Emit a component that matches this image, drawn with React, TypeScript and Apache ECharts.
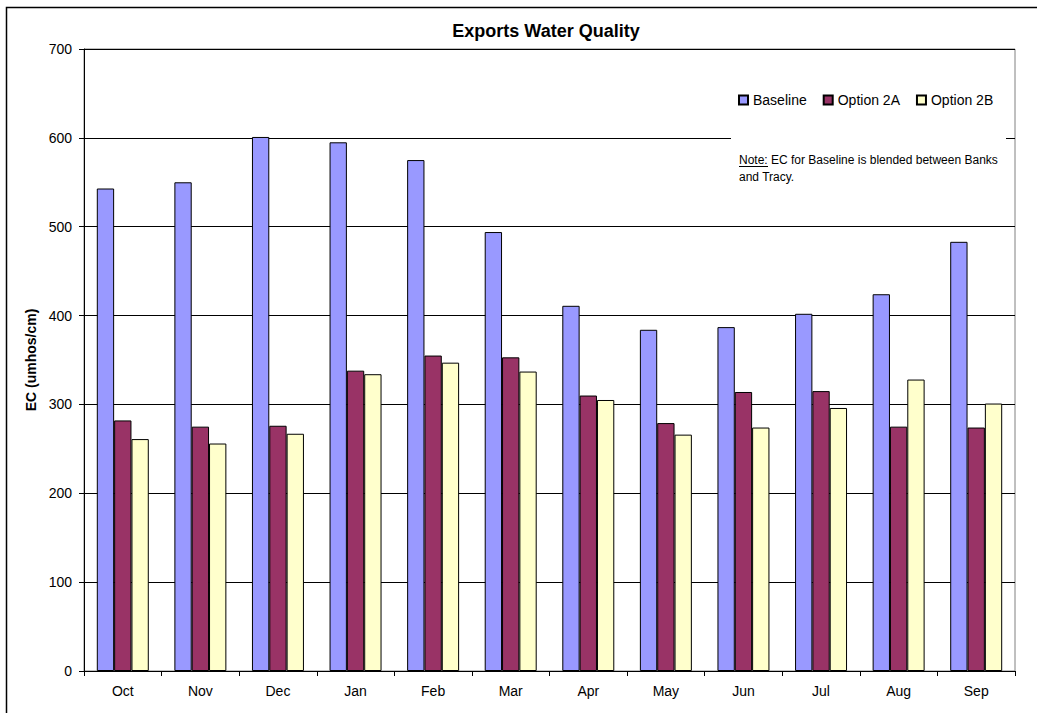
import React, { useEffect, useRef } from "react";
import * as echarts from "echarts";

const months = ["Oct", "Nov", "Dec", "Jan", "Feb", "Mar", "Apr", "May", "Jun", "Jul", "Aug", "Sep"];
const baseline = [543, 550, 601, 595, 575, 494, 411, 384, 387, 402, 424, 483];
const option2A = [282, 275, 276, 338, 355, 353, 310, 279, 314, 315, 275, 274];
const option2B = [261, 256, 267, 334, 347, 337, 305, 266, 274, 296, 328, 301];
const yTicks = { min: 0, max: 700, interval: 100 };

const FONT = "'Liberation Sans', Arial, Helvetica, sans-serif";

export default function App() {
  const ref = useRef<HTMLDivElement>(null);
  useEffect(() => {
    if (!ref.current) return;
    const chart = echarts.init(ref.current, null, { renderer: "svg" });
    const barStyle = (color: string) => ({ color, borderColor: "#000", borderWidth: 1 });
    chart.setOption({
      animation: false,
      backgroundColor: "#fff",
      textStyle: { fontFamily: FONT, color: "#000" },
      title: {
        text: "Exports Water Quality",
        left: 541,
        textAlign: "center",
        top: 17,
        textStyle: { fontFamily: FONT, fontSize: 18, fontWeight: "bold", color: "#000" },
      },
      legend: {
        data: ["Baseline", "Option 2A", "Option 2B"],
        left: 738,
        top: 93,
        padding: 0,
        itemWidth: 9,
        itemHeight: 9,
        itemGap: 16,
        icon: "rect",
        textStyle: { fontFamily: FONT, fontSize: 14, color: "#000", padding: [0, 0, 0, 0] },
      },
      grid: {
        left: 84,
        top: 49,
        right: 22,
        bottom: 42,
        show: true,
        borderColor: "#808080",
        borderWidth: 1,
        backgroundColor: "#fff",
      },
      xAxis: {
        type: "category",
        data: months,
        axisLine: { show: true, lineStyle: { color: "#000", width: 1 } },
        axisTick: { show: true, alignWithLabel: false, length: 5, lineStyle: { color: "#000" } },
        axisLabel: { fontFamily: FONT, fontSize: 14, color: "#000", margin: 13 },
      },
      yAxis: {
        type: "value",
        min: yTicks.min,
        max: yTicks.max,
        interval: yTicks.interval,
        name: "EC (umhos/cm)",
        nameLocation: "middle",
        nameGap: 45,
        nameRotate: 90,
        nameTextStyle: { fontFamily: FONT, fontSize: 14, fontWeight: "bold", color: "#000" },
        axisLine: { show: true, lineStyle: { color: "#000", width: 1 } },
        axisTick: { show: true, length: 5, lineStyle: { color: "#000" } },
        axisLabel: { fontFamily: FONT, fontSize: 14, color: "#000", margin: 12 },
        splitLine: { show: true, lineStyle: { color: "#000", width: 1 } },
      },
      series: [
        { name: "Baseline", type: "bar", data: baseline, itemStyle: barStyle("#9999FF"), barGap: "0%", barCategoryGap: "33%" },
        { name: "Option 2A", type: "bar", data: option2A, itemStyle: barStyle("#993366"), barGap: "0%", barCategoryGap: "33%" },
        { name: "Option 2B", type: "bar", data: option2B, itemStyle: barStyle("#FFFFCC"), barGap: "0%", barCategoryGap: "33%" },
      ],
      graphic: [
        {
          type: "rect",
          z: 1,
          silent: true,
          shape: { x: 731, y: 70, width: 275, height: 130 },
          style: { fill: "#fff", stroke: null },
        },
        {
          type: "text",
          z: 5,
          x: 739,
          y: 154,
          style: {
            text: "Note: EC for Baseline is blended between Banks",
            fontFamily: FONT,
            fontSize: 12,
            fill: "#000",
            textVerticalAlign: "top",
          },
        },
        {
          type: "line",
          z: 5,
          shape: { x1: 739, y1: 166.5, x2: 768, y2: 166.5 },
          style: { stroke: "#000", lineWidth: 1 },
        },
        {
          type: "text",
          z: 5,
          x: 739,
          y: 170.5,
          style: {
            text: "and Tracy.",
            fontFamily: FONT,
            fontSize: 12,
            fill: "#000",
            textVerticalAlign: "top",
          },
        },
        {
          type: "rect",
          z: 10,
          silent: true,
          shape: { x: 6.5, y: 7.5, width: 1100, height: 800 },
          style: { fill: null, stroke: "#000", lineWidth: 1.5 },
        },
      ],
    });
    return () => chart.dispose();
  }, []);
  return (
    <div
      ref={ref}
      style={{ position: "absolute", left: 0, top: 0, width: 1037, height: 713, background: "#fff" }}
    />
  );
}
